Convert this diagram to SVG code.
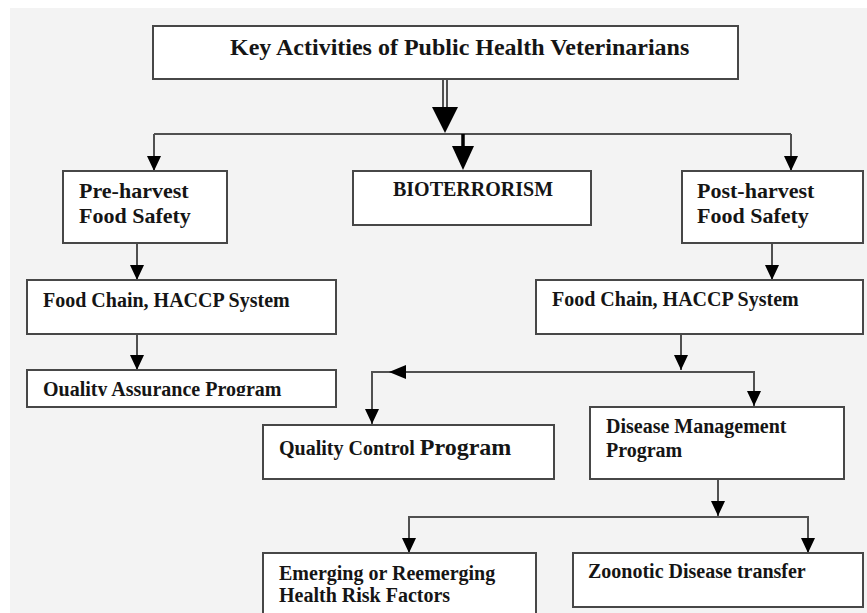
<svg xmlns="http://www.w3.org/2000/svg" width="867" height="613" viewBox="0 0 867 613">
<style>
.box{fill:#ffffff;stroke:#474747;stroke-width:2}
.t{font-family:"Liberation Serif","Times New Roman",serif;font-weight:bold;font-size:20px;fill:#151515}
.big{font-size:22px}
.ln{stroke:#505050;stroke-width:2;fill:none}
</style>
<defs>
<marker id="ah" markerUnits="userSpaceOnUse" markerWidth="16" markerHeight="16" refX="15" refY="7" orient="auto">
<path d="M0,0 L15,7 L0,14 Z" fill="#000"/>
</marker>
<clipPath id="qaclip"><rect x="27" y="370" width="310" height="26"/></clipPath>
</defs>
<rect x="0" y="0" width="867" height="613" fill="#ffffff"/>
<rect x="10" y="8" width="857" height="605" fill="#f3f3f3"/>

<g id="connectors">
<line class="ln" x1="443" y1="79" x2="443" y2="108"/>
<line class="ln" x1="447" y1="79" x2="447" y2="108"/>
<path d="M432,107 L458,107 L445,133 Z" fill="#000"/>
<line class="ln" x1="154" y1="134" x2="791" y2="134"/>
<line class="ln" x1="154" y1="134" x2="154" y2="171" marker-end="url(#ah)"/>
<line x1="463" y1="134" x2="463" y2="148" stroke="#000" stroke-width="3.5"/>
<path d="M452,146 L474,146 L463,170 Z" fill="#000"/>
<line class="ln" x1="791" y1="134" x2="791" y2="171" marker-end="url(#ah)"/>
<line class="ln" x1="137" y1="243" x2="137" y2="280" marker-end="url(#ah)"/>
<line class="ln" x1="137" y1="334" x2="137" y2="370" marker-end="url(#ah)"/>
<line class="ln" x1="772" y1="243" x2="772" y2="280" marker-end="url(#ah)"/>
<line class="ln" x1="681" y1="334" x2="681" y2="370" marker-end="url(#ah)"/>
<line class="ln" x1="372" y1="372" x2="754" y2="372"/>
<path d="M389,372 L406,365 L406,379 Z" fill="#000"/>
<line class="ln" x1="372" y1="371" x2="372" y2="424" marker-end="url(#ah)"/>
<line class="ln" x1="754" y1="371" x2="754" y2="406" marker-end="url(#ah)"/>
<line class="ln" x1="718" y1="479" x2="718" y2="516" marker-end="url(#ah)"/>
<line class="ln" x1="409" y1="517" x2="808" y2="517"/>
<line class="ln" x1="409" y1="516" x2="409" y2="553" marker-end="url(#ah)"/>
<line class="ln" x1="808" y1="516" x2="808" y2="553" marker-end="url(#ah)"/>
</g>

<g id="title">
<rect class="box" x="153" y="26" width="585" height="53"/>
<text class="t" x="230" y="55" style="font-size:24px">Key Activities of Public Health Veterinarians</text>
</g>
<g id="preharvest">
<rect class="box" x="63" y="171" width="164" height="72"/>
<text class="t big" x="79" y="198">Pre-harvest</text>
<text class="t big" x="79" y="223">Food Safety</text>
</g>
<g id="bioterrorism">
<rect class="box" x="353" y="171" width="238" height="54"/>
<text class="t" x="393" y="196">BIOTERRORISM</text>
</g>
<g id="postharvest">
<rect class="box" x="682" y="171" width="181" height="72"/>
<text class="t big" x="697" y="198">Post-harvest</text>
<text class="t big" x="697" y="223">Food Safety</text>
</g>
<g id="foodchain-left">
<rect class="box" x="27" y="280" width="309" height="54"/>
<text class="t" x="43" y="307">Food Chain, HACCP System</text>
</g>
<g id="foodchain-right">
<rect class="box" x="536" y="280" width="327" height="54"/>
<text class="t" x="552" y="306">Food Chain, HACCP System</text>
</g>
<g id="quality-assurance">
<rect class="box" x="27" y="370" width="309" height="37"/>
<text class="t" x="43" y="396" clip-path="url(#qaclip)">Quality Assurance Program</text>
</g>
<g id="quality-control">
<rect class="box" x="263" y="425" width="291" height="54"/>
<text class="t" x="279" y="455">Quality Control <tspan style="font-size:24px">Program</tspan></text>
</g>
<g id="disease-management">
<rect class="box" x="590" y="407" width="254" height="72"/>
<text class="t" x="606" y="433">Disease Management</text>
<text class="t" x="606" y="457">Program</text>
</g>
<g id="emerging">
<rect class="box" x="263" y="553" width="273" height="64"/>
<text class="t" x="279" y="580">Emerging or Reemerging</text>
<text class="t" x="279" y="602">Health Risk Factors</text>
</g>
<g id="zoonotic">
<rect class="box" x="573" y="553" width="290" height="54"/>
<text class="t" x="588" y="578">Zoonotic Disease transfer</text>
</g>
</svg>
